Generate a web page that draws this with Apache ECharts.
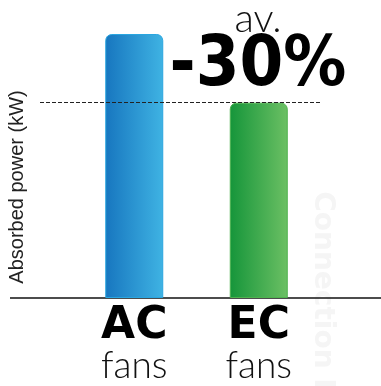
<!DOCTYPE html>
<html><head><meta charset="utf-8">
<script src="https://cdn.jsdelivr.net/npm/echarts@6/dist/echarts.min.js"></script>
<style>html,body{margin:0;padding:0;background:#fff}#c{width:381px;height:386px}</style>
</head><body><div id="c"></div>
<script>
const categories = ['AC', 'EC'];
const subLabels = ['fans', 'fans'];
const powerValues = [100, 74];
const axisTitle = 'Absorbed power (kW)';
const avText = 'av.';
const reductionText = '-30%';

const grads = [
  new echarts.graphic.LinearGradient(0, 0, 1, 0, [{offset: 0, color: '#1776bf'}, {offset: 1, color: '#3fb3e3'}]),
  new echarts.graphic.LinearGradient(0, 0, 1, 0, [{offset: 0, color: '#15953a'}, {offset: 1, color: '#6cc064'}])
];
const borders = ['#2aa6e0', '#4fb24f'];

const chart = echarts.init(document.getElementById('c'));
chart.setOption({
  animation: false,
  grid: {left: 72, right: 60, top: 34, bottom: 88},
  xAxis: {
    type: 'category', data: categories,
    axisLine: {show: false}, axisTick: {show: false},
    axisLabel: {
      margin: 8,
      formatter: (v, i) => '{a|' + v + '}\n{b|' + subLabels[i] + '}',
      rich: {
        a: {fontFamily: 'DejaVu Sans', fontWeight: 'bold', fontSize: 44, color: '#000', lineHeight: 42},
        b: {fontFamily: 'Lato', fontWeight: 300, fontSize: 37, color: '#111', lineHeight: 36}
      }
    }
  },
  yAxis: {
    type: 'value', min: 0, max: 100,
    axisLine: {show: false}, axisTick: {show: false}, axisLabel: {show: false}, splitLine: {show: false}
  },
  series: [{
    type: 'bar', barWidth: 58,
    data: powerValues.map((v, i) => ({value: v, itemStyle: {color: grads[i], borderColor: borders[i], borderWidth: 1, borderRadius: [6, 6, 0, 0]}})),
    markLine: {
      symbol: 'none', silent: true,
      label: {show: false},
      lineStyle: {color: '#222', type: [4, 2], width: 1},
      data: [[{x: 40, yAxis: powerValues[1]}, {x: 322, yAxis: powerValues[1]}]]
    }
  }],
  graphic: [
    {type: 'line', shape: {x1: 10, y1: 298, x2: 381, y2: 298}, style: {stroke: '#111', lineWidth: 1.5}},
    {type: 'text', x: 17, y: 187, rotation: Math.PI / 2, style: {text: axisTitle, fontFamily: 'Liberation Sans', fontSize: 20, fill: '#222', align: 'center', verticalAlign: 'middle'}},
    {type: 'text', x: 322, y: 290, rotation: -Math.PI / 2, style: {text: 'Connection I', fontFamily: 'DejaVu Sans', fontWeight: 'bold', fontSize: 28, fill: '#f5f5f5', align: 'center', verticalAlign: 'middle'}, z: -1},
    {type: 'text', x: 258, y: 19, style: {text: avText, fontFamily: 'Lato', fontWeight: 300, fontSize: 40, fill: '#111', align: 'center', verticalAlign: 'middle'}},
    {type: 'text', x: 258, y: 67, style: {text: reductionText, fontFamily: 'DejaVu Sans Condensed', fontWeight: 'bold', fontSize: 70, fill: '#000', align: 'center', verticalAlign: 'middle'}}
  ]
});
</script></body></html>
